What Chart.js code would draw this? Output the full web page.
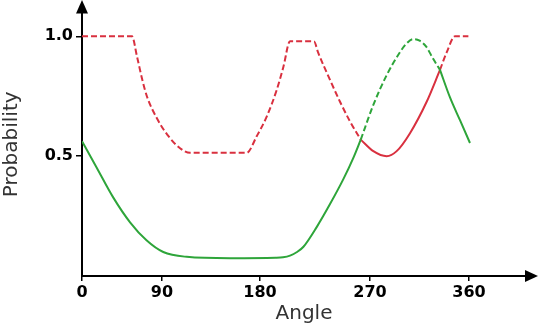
<!DOCTYPE html>
<html>
<head>
<meta charset="utf-8">
<script src="https://cdn.jsdelivr.net/npm/chart.js@4/dist/chart.umd.min.js"></script>
<style>
  html, body { margin: 0; padding: 0; background: #fff; }
  canvas { display: block; }
</style>
</head>
<body>
<canvas id="c" width="538" height="326"></canvas>
<script>
// Tick labels and where they sit on the (hand-drawn, uneven) angle axis
const xTickValues = [0, 74.4, 165.6, 267.9, 360];
const xTickLabels = ["0", "90", "180", "270", "360"];
const yTickValues = [0.5, 1.0];
const yTickLabels = ["0.5", "1.0"];

// Red curve: dashed, solid, dashed
const redDashA_x = [0, 46.5, 51.2, 55.8, 60.5, 69.8, 79.1, 91.2, 100.5, 153.2, 162.5, 171.8, 181.1, 187.3, 193.5, 215.8, 219.5, 230.7, 240.0, 249.3, 259.3];
const redDashA_y = [1.0, 1.0, 0.915, 0.824, 0.748, 0.657, 0.591, 0.533, 0.514, 0.514, 0.583, 0.665, 0.776, 0.872, 0.979, 0.979, 0.934, 0.818, 0.727, 0.645, 0.569];
const redSolid_x = [259.3, 271.0, 283.4, 292.7, 305.1, 320.6, 333.0];
const redSolid_y = [0.569, 0.521, 0.500, 0.521, 0.596, 0.727, 0.860];
const redDashB_x = [333.0, 339.3, 347.0, 359.4];
const redDashB_y = [0.860, 0.934, 1.0, 1.0];

// Green curve: solid, dashed, solid
const greenSolidA_x = [0, 13.7, 29.0, 44.7, 60.0, 75.6, 97.4, 137.7, 180.0, 187.0, 193.5, 200.0, 206.0, 218.3, 230.7, 243.1, 252.4, 259.3];
const greenSolidA_y = [0.562, 0.452, 0.328, 0.224, 0.149, 0.100, 0.080, 0.074, 0.076, 0.078, 0.085, 0.100, 0.122, 0.204, 0.300, 0.404, 0.493, 0.569];
const greenDash_x = [259.3, 271.0, 283.4, 295.8, 301.4, 308.0, 314.0, 320.0, 326.8, 333.0];
const greenDash_y = [0.569, 0.714, 0.838, 0.934, 0.968, 0.988, 0.982, 0.958, 0.905, 0.860];
const greenSolidB_x = [333.0, 342.3, 351.6, 360.9];
const greenSolidB_y = [0.860, 0.745, 0.650, 0.555];

const RED = "#d9303f";
const GREEN = "#2ea53a";

function pts(xs, ys) { return xs.map((x, i) => ({ x: x, y: ys[i] })); }
function ds(xs, ys, color, dashed) {
  return {
    data: pts(xs, ys),
    borderColor: color,
    borderWidth: 2,
    borderDash: dashed ? [6, 3] : [],
    pointRadius: 0,
    fill: false,
    cubicInterpolationMode: "monotone"
  };
}

const arrows = {
  id: "arrows",
  afterDraw(chart) {
    const ctx = chart.ctx, a = chart.chartArea;
    ctx.save();
    ctx.fillStyle = "#000";
    ctx.beginPath();
    ctx.moveTo(a.left, 0);
    ctx.lineTo(a.left - 6, a.top + 1);
    ctx.lineTo(a.left + 6, a.top + 1);
    ctx.closePath();
    ctx.fill();
    ctx.beginPath();
    ctx.moveTo(538, a.bottom);
    ctx.lineTo(a.right - 1, a.bottom - 6);
    ctx.lineTo(a.right - 1, a.bottom + 6);
    ctx.closePath();
    ctx.fill();
    ctx.restore();
  }
};

new Chart(document.getElementById("c"), {
  type: "line",
  data: {
    datasets: [
      ds(greenSolidA_x, greenSolidA_y, GREEN, false),
      ds(greenDash_x, greenDash_y, GREEN, true),
      ds(greenSolidB_x, greenSolidB_y, GREEN, false),
      ds(redDashA_x, redDashA_y, RED, true),
      ds(redSolid_x, redSolid_y, RED, false),
      ds(redDashB_x, redDashB_y, RED, true)
    ]
  },
  options: {
    responsive: false,
    animation: false,
    layout: { padding: { top: 10, right: 12, left: 0, bottom: 0 } },
    plugins: { legend: { display: false }, tooltip: { enabled: false } },
    scales: {
      x: {
        type: "linear",
        min: 0,
        max: 413,
        afterBuildTicks(scale) { scale.ticks = xTickValues.map(v => ({ value: v })); },
        afterFit(scale) { scale.height = 50; },
        ticks: {
          autoSkip: false,
          maxRotation: 0,
          padding: 2,
          color: "#000",
          font: { family: "DejaVu Sans", weight: "bold", size: 16 },
          callback: (v, i) => xTickLabels[i]
        },
        grid: { drawOnChartArea: false, drawTicks: true, tickLength: 5, color: "#000", lineWidth: 1.5 },
        border: { color: "#000", width: 2 },
        title: {
          display: true,
          text: "Angle",
          color: "#333",
          font: { family: "DejaVu Sans", size: 20 },
          padding: { top: 0, bottom: 0 }
        }
      },
      y: {
        type: "linear",
        min: 0,
        max: 1.099,
        afterBuildTicks(scale) { scale.ticks = yTickValues.map(v => ({ value: v })); },
        afterFit(scale) { scale.width = 82; },
        ticks: {
          padding: 3,
          color: "#000",
          font: { family: "DejaVu Sans", weight: "bold", size: 16 },
          callback: (v, i) => yTickLabels[i]
        },
        grid: { drawOnChartArea: false, drawTicks: true, tickLength: 6, color: "#000", lineWidth: 1.5 },
        border: { color: "#000", width: 2 },
        title: {
          display: true,
          text: "Probability",
          color: "#333",
          font: { family: "DejaVu Sans", size: 20 },
          padding: { top: 0, bottom: 0 }
        }
      }
    }
  },
  plugins: [arrows]
});
</script>
</body>
</html>
